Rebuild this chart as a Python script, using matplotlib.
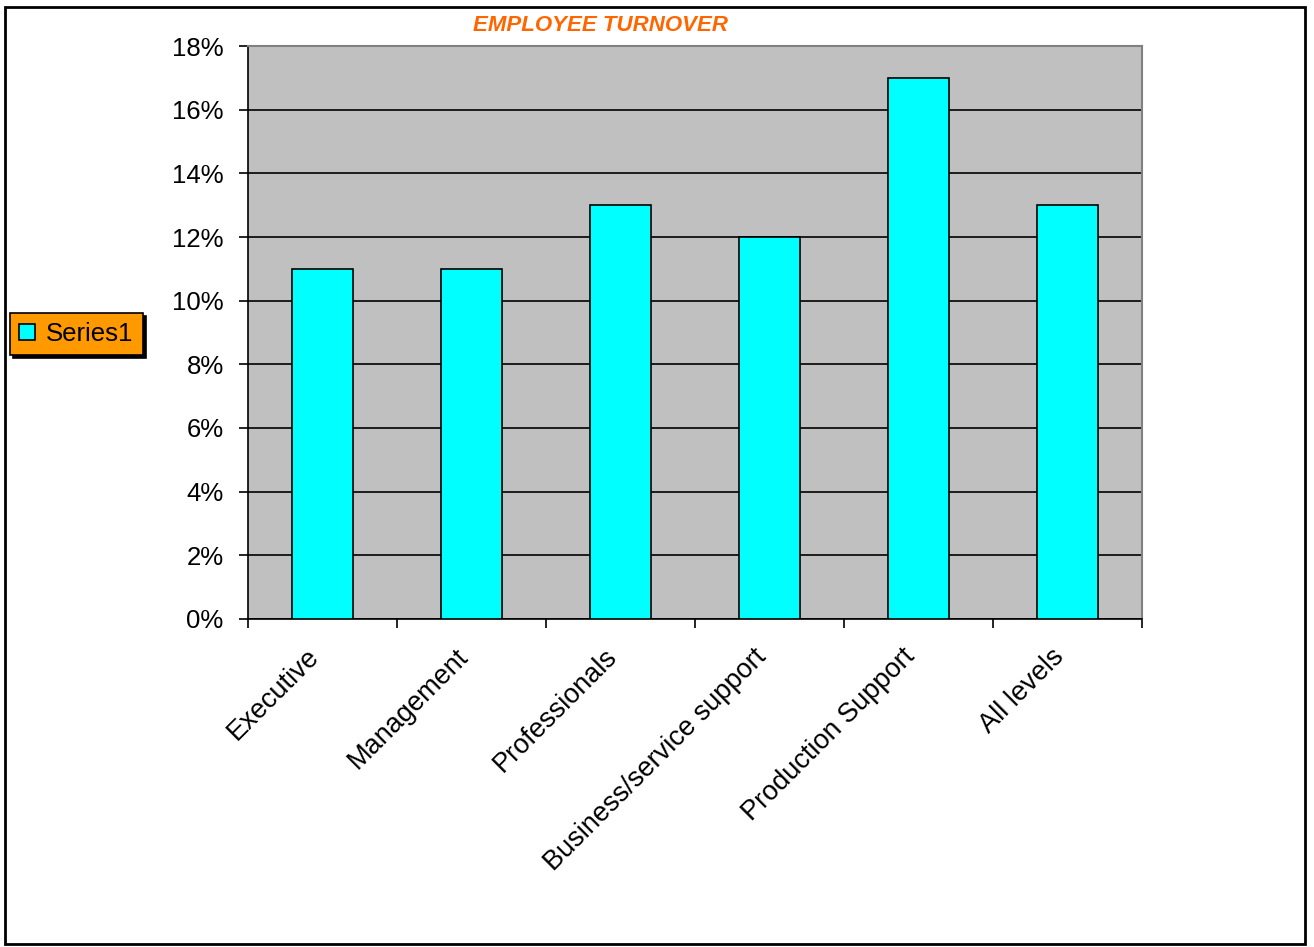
import matplotlib.pyplot as plt
from matplotlib.patches import Rectangle
from matplotlib.transforms import ScaledTranslation
from matplotlib.ticker import PercentFormatter, FixedLocator, NullFormatter

plt.rcParams['font.family'] = ['Liberation Sans', 'DejaVu Sans']

# data
categories = ["Executive", "Management", "Professionals",
              "Business/service support", "Production Support", "All levels"]
turnover = [11, 11, 13, 12, 17, 13]  # percent
series_name = "Series1"

fig = plt.figure(figsize=(13.14, 9.47), dpi=100)
ax = fig.add_axes([0.1887, 0.3464, 0.6804, 0.605])

x = list(range(len(categories)))
ax.bar(x, turnover, width=0.41, color="#00FFFF", edgecolor="black",
       linewidth=1.2, label=series_name, zorder=3)

ax.set_facecolor("#C0C0C0")
ax.set_xlim(-0.5, len(categories) - 0.5)
ax.set_ylim(0, 18)
ax.set_yticks(range(0, 19, 2))
ax.yaxis.set_major_formatter(PercentFormatter(decimals=0))
ax.grid(axis="y", color="black", linewidth=1.2, zorder=1)

# category labels centred under bars, ticks at category boundaries
ax.set_xticks(x)
ax.set_xticklabels(categories, rotation=45, ha="right", va="bottom",
                   rotation_mode="anchor", fontsize=19.5)
ax.tick_params(axis="x", which="major", length=0, pad=31)
shift = ScaledTranslation(2 / 100, 0, fig.dpi_scale_trans)
for lbl in ax.get_xticklabels():
    lbl.set_transform(lbl.get_transform() + shift)
ax.xaxis.set_minor_locator(FixedLocator([i - 0.5 for i in range(len(categories) + 1)]))
ax.xaxis.set_minor_formatter(NullFormatter())
ax.tick_params(axis="x", which="minor", length=6.5, width=1.2, color="black")
ax.tick_params(axis="y", labelsize=18.5, length=6.5, width=1.2, pad=11)

for side in ["top", "right"]:
    ax.spines[side].set_color("#808080")
    ax.spines[side].set_linewidth(1.5)
for side in ["left", "bottom"]:
    ax.spines[side].set_color("black")
    ax.spines[side].set_linewidth(1.2)

fig.text(0.457, 0.973, "EMPLOYEE TURNOVER", color="#FF6600", fontsize=16,
         fontweight="bold", fontstyle="italic", ha="center", va="center")

leg = fig.legend(loc="upper left", bbox_to_anchor=(0.0076, 0.6695),
                 bbox_transform=fig.transFigure, borderaxespad=0,
                 fancybox=False, facecolor="#FF9900", edgecolor="black",
                 framealpha=1, fontsize=18.5, handlelength=0.6, handleheight=0.6,
                 handletextpad=0.45, borderpad=0.36,
                 shadow={"color": "black", "alpha": 1})
leg.get_frame().set_linewidth(1.2)

# outer chart border
fig.patches.append(Rectangle((0.004, 0.003), 0.9895, 0.99, transform=fig.transFigure,
                             fill=False, edgecolor="black", linewidth=2))

fig.savefig("out.png", dpi=100)
